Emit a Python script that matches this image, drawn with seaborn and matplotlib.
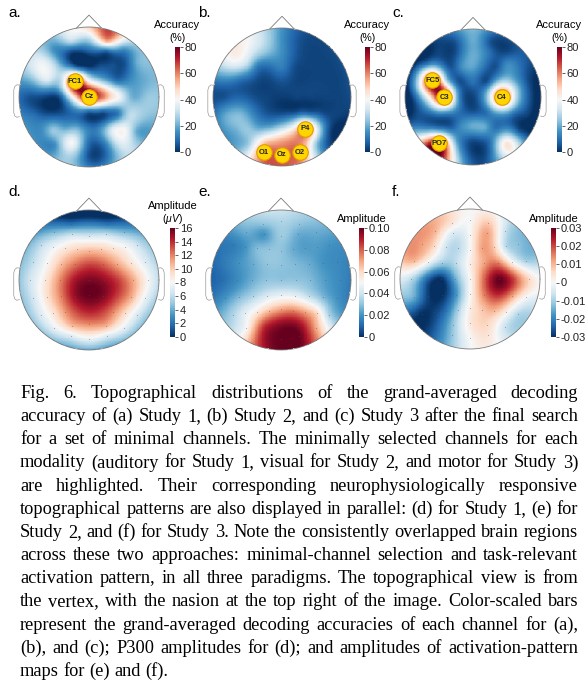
import numpy as np
import matplotlib
matplotlib.use("Agg")
import matplotlib.pyplot as plt
import seaborn as sns
from matplotlib.font_manager import FontProperties

# ---- data -------------------------------------------------------------
channels = ["Fp1", "Fpz", "Fp2",
            "AF7", "AF3", "AFz", "AF4", "AF8",
            "F7", "F5", "F3", "F1", "Fz", "F2", "F4", "F6", "F8",
            "FT7", "FC5", "FC3", "FC1", "FCz", "FC2", "FC4", "FC6", "FT8",
            "T7", "C5", "C3", "C1", "Cz", "C2", "C4", "C6", "T8",
            "TP7", "CP5", "CP3", "CP1", "CPz", "CP2", "CP4", "CP6", "TP8",
            "P7", "P5", "P3", "P1", "Pz", "P2", "P4", "P6", "P8",
            "PO7", "PO3", "POz", "PO4", "PO8",
            "O1", "Oz", "O2"]

# (a) decoding accuracy, Study 1 (%)
acc_study1 = [30, 30, 55,
              15, 5, 5, 8, 15,
              38, 30, 15, 5, 3, 5, 5, 5, 20,
              25, 35, 30, 80, 45, 25, 10, 15, 20,
              5, 3, 5, 45, 80, 60, 40, 20, 25,
              10, 5, 5, 10, 8, 5, 10, 30, 25,
              15, 25, 20, 20, 10, 15, 35, 40, 20,
              15, 40, 10, 15, 35,
              30, 5, 10]
# (b) decoding accuracy, Study 2 (%)
acc_study2 = [30, 15, 5,
              38, 25, 15, 5, 3,
              38, 30, 12, 10, 12, 5, 3, 3, 3,
              15, 10, 5, 3, 5, 3, 3, 3, 3,
              5, 8, 5, 3, 2, 3, 3, 3, 3,
              20, 22, 12, 5, 3, 5, 8, 5, 3,
              20, 25, 20, 20, 25, 40, 62, 35, 5,
              25, 50, 55, 60, 25,
              62, 62, 62]
# (c) decoding accuracy, Study 3 (%)
acc_study3 = [5, 20, 5,
              3, 5, 20, 10, 3,
              10, 15, 5, 15, 18, 10, 5, 15, 10,
              30, 80, 30, 5, 10, 5, 25, 20, 5,
              10, 45, 78, 15, 3, 25, 70, 30, 5,
              5, 10, 15, 10, 5, 10, 20, 10, 3,
              20, 15, 8, 15, 20, 20, 10, 15, 5,
              80, 20, 5, 10, 45,
              30, 3, 10]
# (d) P300 amplitude (uV)
p300_amp = [2, 1.5, 2,
            4.5, 6, 6.5, 6, 4.5,
            6, 7.5, 8.8, 9.8, 10.5, 10, 9, 8, 6.5,
            6, 8, 10.4, 12.3, 13.5, 12.8, 11, 9, 7,
            6.5, 8.7, 11.7, 14.5, 15.5, 15, 13.5, 11, 8,
            6.5, 9.2, 12, 15, 16, 15.5, 13.5, 11, 7.5,
            7, 9, 11.5, 13.5, 14.5, 13.8, 12, 9.5, 7,
            7.5, 10.5, 11.8, 10.8, 7.5,
            7, 7.5, 7]
# (e) activation pattern, Study 2
pattern_study2 = [0.030, 0.035, 0.030,
                  0.025, 0.020, 0.032, 0.025, 0.025,
                  0.015, 0.020, 0.028, 0.030, 0.030, 0.025, 0.022, 0.022, 0.020,
                  0.015, 0.020, 0.025, 0.030, 0.030, 0.028, 0.025, 0.020, 0.018,
                  0.012, 0.018, 0.025, 0.030, 0.030, 0.030, 0.028, 0.022, 0.018,
                  0.020, 0.028, 0.035, 0.042, 0.045, 0.045, 0.038, 0.028, 0.020,
                  0.035, 0.045, 0.055, 0.065, 0.070, 0.075, 0.070, 0.060, 0.035,
                  0.050, 0.085, 0.095, 0.095, 0.070,
                  0.090, 0.100, 0.100]
# (f) activation pattern, Study 3
pattern_study3 = [0.004, 0.000, 0.008,
                  0.010, -0.004, 0.000, 0.012, -0.006,
                  0.012, 0.006, -0.006, -0.008, 0.000, 0.012, 0.008, -0.008, -0.012,
                  0.010, 0.000, -0.010, -0.008, 0.002, 0.012, 0.015, 0.000, -0.010,
                  -0.008, -0.022, -0.030, -0.015, 0.000, 0.018, 0.030, 0.020, 0.006,
                  -0.015, -0.028, -0.030, -0.018, 0.000, 0.015, 0.022, 0.012, 0.000,
                  -0.030, -0.028, -0.022, -0.010, 0.002, 0.008, 0.010, 0.002, -0.008,
                  -0.025, -0.012, 0.003, 0.006, -0.006,
                  -0.012, 0.000, 0.004]

highlight_a = ["FC1", "Cz"]
highlight_b = ["P4", "O1", "Oz", "O2"]
highlight_c = ["FC5", "C3", "C4", "PO7"]

acc_ticks = [0, 20, 40, 60, 80]
p300_ticks = [0, 2, 4, 6, 8, 10, 12, 14, 16]
e_ticks = [0, 0.02, 0.04, 0.06, 0.08, 0.10]
e_ticklabels = ["0", "0.02", "0.04", "0.06", "0.08", "0.10"]
f_ticks = [-0.03, -0.02, -0.01, 0, 0.01, 0.02, 0.03]
f_ticklabels = ["-0.03", "-0.02", "-0.01", "0", "0.01", "0.02", "0.03"]

caption = [
    "Fig. 6. Topographical distributions of the grand-averaged decoding",
    "accuracy of (a) Study 1, (b) Study 2, and (c) Study 3 after the final search",
    "for a set of minimal channels. The minimally selected channels for each",
    "modality (auditory for Study 1, visual for Study 2, and motor for Study 3)",
    "are highlighted. Their corresponding neurophysiologically responsive",
    "topographical patterns are also displayed in parallel: (d) for Study 1, (e) for",
    "Study 2, and (f) for Study 3. Note the consistently overlapped brain regions",
    "across these two approaches: minimal-channel selection and task-relevant",
    "activation pattern, in all three paradigms. The topographical view is from",
    "the vertex, with the nasion at the top right of the image. Color-scaled bars",
    "represent the grand-averaged decoding accuracies of each channel for (a),",
    "(b), and (c); P300 amplitudes for (d); and amplitudes of activation-pattern",
    "maps for (e) and (f).",
]

# ---- electrode layout from 10-10 names ---------------------------------
RING = 0.84
# row -> (midline angle from vertex, +front; azimuth of ring electrode; steps)
ROW_GEOM = {"Fp": (90, 18, 1), "AF": (67.5, 36, 4), "F": (45, 54, 4),
            "FT": (22.5, 72, 4), "FC": (22.5, 72, 4), "T": (0, 90, 4),
            "C": (0, 90, 4), "TP": (-22.5, 108, 4), "CP": (-22.5, 108, 4),
            "P": (-45, 126, 4), "PO": (-67.5, 144, 4), "O": (-90, 162, 1)}


def electrode_xy(name):
    if name.endswith("z"):
        row, num = name[:-1], 0
    else:
        i = len(name.rstrip("0123456789"))
        row, num = name[:i], int(name[i:])
    lat, az, steps = ROW_GEOM[row]
    mid = np.array([0.0, RING * lat / 90])
    if num == 0:
        return mid
    side = -1 if num % 2 else 1
    j = (num + 1) // 2
    ring = np.array([side * RING * np.sin(np.radians(az)), RING * np.cos(np.radians(az))])
    f = min(1.0, j / steps)
    return (1 - f) * mid + f * ring


pos = np.array([electrode_xy(c) for c in channels])


def biharmonic(xe, ye, ve, xg, yg):
    d = np.hypot(xe[:, None] - xe[None, :], ye[:, None] - ye[None, :])
    g = np.where(d > 0, d ** 2 * (np.log(np.maximum(d, 1e-12)) - 1), 0.0)
    w = np.linalg.solve(g, ve)
    dg = np.hypot(xg.ravel()[:, None] - xe[None, :], yg.ravel()[:, None] - ye[None, :])
    gg = np.where(dg > 0, dg ** 2 * (np.log(np.maximum(dg, 1e-12)) - 1), 0.0)
    return (gg @ w).reshape(xg.shape)


N = 180
gu = -1 + (np.arange(N) + 0.5) * 2 / N
gv = 1 - (np.arange(N) + 0.5) * 2 / N
GU, GV = np.meshgrid(gu, gv)
outside = GU ** 2 + GV ** 2 > 1.0

# ---- figure -------------------------------------------------------------
W, H = 588, 682
plt.rcParams["font.family"] = ["Liberation Sans", "DejaVu Sans"]
plt.rcParams["mathtext.fontset"] = "custom"
plt.rcParams["mathtext.it"] = "Liberation Sans:italic"
plt.rcParams["mathtext.rm"] = "Liberation Sans"
fig = plt.figure(figsize=(W / 100, H / 100), dpi=100)
cmap = sns.color_palette("RdBu_r", as_cmap=True)


def px_axes(x, y, w, h):
    return fig.add_axes([x / W, 1 - (y + h) / H, w / W, h / H])


def px_text(x, y, s, **kw):
    return fig.text(x / W, 1 - y / H, s, **kw)


def to_d(u, v):
    return (np.asarray(u) + 1) * N / 2, (1 - np.asarray(v)) * N / 2


EXT = 1.22
panels = [
    # letter, values, vmin, vmax, ticks, ticklabels, title, highlight, cx, cy, R, cbar x, cbar y, cbar w, cbar h
    ("a.", acc_study1, 0, 80, acc_ticks, None, ["Accuracy", "(%)"], highlight_a, 89, 97, 70, 175, 47, 5, 105),
    ("b.", acc_study2, 0, 80, acc_ticks, None, ["Accuracy", "(%)"], highlight_b, 282, 97, 69, 365, 47, 5, 105),
    ("c.", acc_study3, 0, 80, acc_ticks, None, ["Accuracy", "(%)"], highlight_c, 473, 97, 68, 557, 47, 5, 105),
    ("d.", p300_amp, 0, 16, p300_ticks, None, ["Amplitude", r"($\mu V$)"], [], 89, 280, 70, 170, 228, 5, 109),
    ("e.", pattern_study2, 0, 0.10, e_ticks, e_ticklabels, ["Amplitude"], [], 281, 280, 70, 359, 228, 5, 109),
    ("f.", pattern_study3, -0.03, 0.03, f_ticks, f_ticklabels, ["Amplitude"], [], 470, 279, 70, 551, 228, 5, 109),
]

label_pos = [(8, 13), (198, 13), (392, 13), (8, 192), (198, 192), (392, 192)]

for k, (letter, vals, vmin, vmax, ticks, tlabels, title, hl,
        cx, cy, R, bx, by, bw, bh) in enumerate(panels):
    ax = px_axes(cx - EXT * R, cy - EXT * R, 2 * EXT * R, 2 * EXT * R)
    cax = px_axes(bx, by, bw, bh)
    Z = biharmonic(pos[:, 0], pos[:, 1], np.array(vals, float), GU, GV)
    sns.heatmap(Z, mask=outside, cmap=cmap, vmin=vmin, vmax=vmax, ax=ax,
                cbar_ax=cax, cbar_kws={"ticks": ticks},
                xticklabels=False, yticklabels=False)
    ax.set_xlim(N / 2 * (1 - EXT), N / 2 * (1 + EXT))
    ax.set_ylim(N / 2 * (1 + EXT), N / 2 * (1 - EXT))
    ax.set_aspect("equal")
    ax.axis("off")
    ax.patch.set_visible(False)

    t = np.linspace(0, 2 * np.pi, 400)
    line_kw = dict(color="#7a7a7a", lw=0.6, solid_capstyle="round")
    ax.plot(*to_d(np.cos(t), np.sin(t)), **line_kw)
    ax.plot(*to_d([-0.18, 0, 0.18], [0.984, 1.17, 0.984]), **line_kw)
    ear_u = np.array([0.995, 1.03, 1.06, 1.075, 1.075, 1.06, 1.03, 0.995])
    ear_v = np.array([0.17, 0.175, 0.15, 0.10, -0.22, -0.27, -0.29, -0.28])
    ax.plot(*to_d(-ear_u, ear_v), color="#9a9a9a", lw=0.5)
    ax.plot(*to_d(ear_u, ear_v), color="#9a9a9a", lw=0.5)

    if not hl:
        ax.scatter(*to_d(pos[:, 0], pos[:, 1]), s=0.6, color="#555555",
                   alpha=0.5, linewidths=0, zorder=3)
    for ch in hl:
        p = pos[channels.index(ch)]
        xd, yd = to_d(p[0], p[1])
        ax.scatter([xd], [yd], s=125, color="#FFD500", edgecolor="#E39A00",
                   linewidths=0.8, zorder=4)
        ax.text(xd, yd, ch, ha="center", va="center", fontsize=5.5,
                fontweight="bold", color="#222222", zorder=5)

    cb = ax.collections[0].colorbar
    if tlabels is not None:
        cb.set_ticklabels(tlabels)
    cax.tick_params(labelsize=8, length=2, width=0.5, pad=1.5, colors="#222222")

    if len(title) == 2:
        px_text(bx + bw / 2, by - 22, title[0], ha="center", va="center", fontsize=8)
        px_text(bx + bw / 2, by - 9, title[1], ha="center", va="center", fontsize=7.5)
    else:
        px_text(bx + bw / 2, by - 9, title[0], ha="center", va="center", fontsize=8)

    lx, ly = label_pos[k]
    px_text(lx, ly, letter, ha="left", va="center", fontsize=11)

# ---- justified caption --------------------------------------------------
renderer = fig.canvas.get_renderer()
left, right = 20, 578
fs = 13.5
fp = FontProperties(family="Liberation Serif", size=fs)


def width(s, prop):
    return renderer.get_text_width_height_descent(s, prop, ismath=False)[0]


widest = max(width(l, fp) for l in caption[:-1])
if widest > right - left:
    fs = fs * (right - left) / widest * 0.995
    fp = FontProperties(family="Liberation Serif", size=fs)

space = width("a a", fp) - width("aa", fp)
base0, step = 398, 23.15
for i, line in enumerate(caption):
    words = line.split()
    ws = [width(w, fp) for w in words]
    if i < len(caption) - 1 and len(words) > 1:
        gap = (right - left - sum(ws)) / (len(words) - 1)
    else:
        gap = space
    x = left
    for w, wpx in zip(words, ws):
        px_text(x, base0 + i * step, w, fontproperties=fp, ha="left",
                va="baseline", color="black")
        x += wpx + gap

fig.savefig("out.png", dpi=100)
